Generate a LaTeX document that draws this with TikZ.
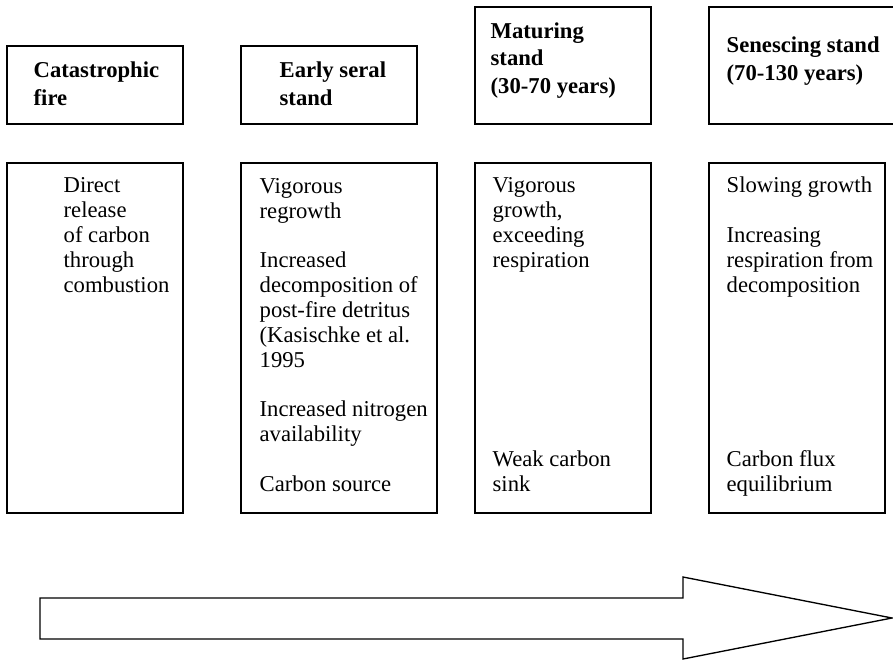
\documentclass[tikz,border=0pt]{standalone}
\usepackage{fontspec}
\setmainfont{Liberation Serif}
\begin{document}
\begin{tikzpicture}[x=0.75pt,y=-0.75pt,line width=1pt,
    head/.style={inner sep=0pt, align=left, anchor=base west,
      font=\bfseries\fontsize{17}{20.3}\selectfont},
    note/.style={inner sep=0pt, align=left, anchor=base west,
      font=\fontsize{17}{18.6}\selectfont}]
  \useasboundingbox (0,0) rectangle (893,661);
  % stage boxes (text placed at its last baseline)
  \draw (7,46) rectangle (183,124);
  \draw (241,46) rectangle (417,124);
  \draw (475,7) rectangle (651,124);
  \draw (709,7) rectangle (905,124);
  \node[head] (fireHead) at (33,105) {Catastrophic\\fire};
  \node[head] (earlyHead) at (279,105) {Early seral\\stand};
  \node[head] (matureHead) at (490,93) {Maturing\\stand\\(30-70 years)};
  \node[head] (senesceHead) at (726,80) {Senescing stand\\(70-130 years)};
  % description boxes
  \draw (7,163) rectangle (183,513);
  \draw (241,163) rectangle (437,513);
  \draw (475,163) rectangle (651,513);
  \draw (709,163) rectangle (885,513);
  \node[note] (fireNote) at (63,292) {Direct\\release\\of carbon\\through\\combustion};
  \node[note] (earlyNote) at (259,491) {Vigorous\\regrowth\\[18.6pt]Increased\\decomposition of\\post-fire detritus\\(Kasischke et al.\\1995\\[18.6pt]Increased nitrogen\\availability\\[18.6pt]Carbon source};
  \node[note] (matureNote) at (492,267) {Vigorous\\growth,\\exceeding\\respiration};
  \node[note] (matureSink) at (492,491) {Weak carbon\\sink};
  \node[note] (senesceNote) at (726,292) {Slowing growth\\[18.6pt]Increasing\\respiration from\\decomposition};
  \node[note] (senesceFlux) at (726,491) {Carbon flux\\equilibrium};
  % time arrow
  \draw (40,598)--(683,598)--(683,577)--(892,618)--(683,659)--(683,639)--(40,639)--cycle;
\end{tikzpicture}
\end{document}
